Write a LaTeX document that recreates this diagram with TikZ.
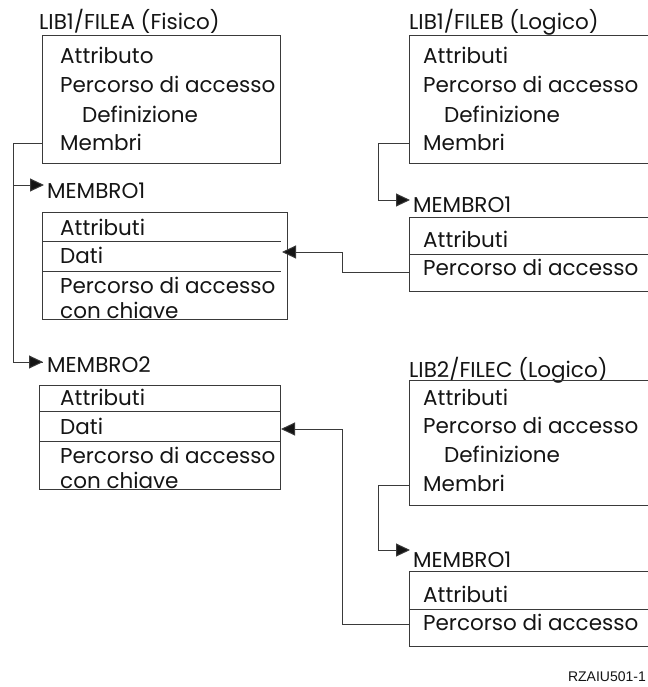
\documentclass[tikz,border=0pt]{standalone}
\usepackage{fontspec}
\setmainfont{Poppins}
\newfontfamily\tagfont{Liberation Sans}
\usetikzlibrary{arrows.meta}
\definecolor{ink}{HTML}{141414}
\definecolor{rule}{HTML}{3A3A3A}
\tikzset{
  txt/.style={anchor=base west, inner sep=0pt, text=ink, font=\fontsize{21.5}{21.5}\selectfont},
  boxframe/.style={draw=rule, line width=1pt},
  link/.style={draw=rule, line width=1pt},
  tip/.style={-{Triangle[length=14pt,width=13pt,fill=ink]}},
}
\begin{document}
\begin{tikzpicture}[x=1pt,y=-1pt]
\useasboundingbox (0,0) rectangle (647,687);

% ---- LIB1/FILEA (physical file)
\node[txt] (fat) at (39,30) {LIB1/FILEA (Fisico)};
\draw[boxframe] (42,36) rectangle (280,164);
\node[txt] (fa1) at (60,64) {Attributo};
\node[txt] (fa2) at (60,93) {Percorso di accesso};
\node[txt] (fa3) at (82,123) {Definizione};
\node[txt] (fa4) at (60,151) {Membri};
\coordinate (famem) at (42,144);
\coordinate (faj) at (13,144);

% member 1 of FILEA
\node[txt] (m1t) at (47,198) {MEMBRO1};
\coordinate (m1in) at (44,185);
\draw[boxframe] (42,212) rectangle (287,319);
\draw[boxframe] (42,241) -- (281,241);
\draw[boxframe] (42,271) -- (281,271);
\node[txt] (m11) at (60,235) {Attributi};
\node[txt] (m12) at (60,263) {Dati};
\node[txt] (m13) at (60,293) {Percorso di accesso};
\node[txt] (m14) at (60,318) {con chiave};
\coordinate (m1dati) at (282,252);

% member 2 of FILEA
\node[txt] (m2t) at (47,372) {MEMBRO2};
\coordinate (m2in) at (43,362);
\draw[boxframe] (39,385) rectangle (280,489);
\draw[boxframe] (39,411) -- (280,411);
\draw[boxframe] (39,441) -- (280,441);
\node[txt] (m21) at (60,405) {Attributi};
\node[txt] (m22) at (60,434) {Dati};
\node[txt] (m23) at (60,463) {Percorso di accesso};
\node[txt] (m24) at (60,488) {con chiave};
\coordinate (m2dati) at (281,429);

% ---- LIB1/FILEB (logical file)
\node[txt] (fbt) at (409,30) {LIB1/FILEB (Logico)};
\draw[boxframe] (409,36) rectangle (700,164);
\node[txt] (fb1) at (423,64) {Attributi};
\node[txt] (fb2) at (423,93) {Percorso di accesso};
\node[txt] (fb3) at (444,123) {Definizione};
\node[txt] (fb4) at (423,151) {Membri};
\coordinate (fbmem) at (409,144);
\coordinate (fbj) at (378,144);

\node[txt] (bm1t) at (413,212) {MEMBRO1};
\coordinate (bm1in) at (410,200);
\draw[boxframe] (409,217) rectangle (700,291);
\draw[boxframe] (409,254) -- (700,254);
\node[txt] (bm11) at (423,247) {Attributi};
\node[txt] (bm12) at (423,275) {Percorso di accesso};
\coordinate (bm1acc) at (409,272);
\coordinate (bj) at (342,272);

% ---- LIB2/FILEC (logical file)
\node[txt] (fct) at (409,377) {LIB2/FILEC (Logico)};
\draw[boxframe] (409,380) rectangle (700,505);
\node[txt] (fc1) at (423,405) {Attributi};
\node[txt] (fc2) at (423,433) {Percorso di accesso};
\node[txt] (fc3) at (444,462) {Definizione};
\node[txt] (fc4) at (423,491) {Membri};
\coordinate (fcmem) at (409,485);
\coordinate (fcj) at (378,485);

\node[txt] (cm1t) at (413,567) {MEMBRO1};
\coordinate (cm1in) at (410,550);
\draw[boxframe] (409,571) rectangle (700,646);
\draw[boxframe] (409,609) -- (700,609);
\node[txt] (cm11) at (423,602) {Attributi};
\node[txt] (cm12) at (423,630) {Percorso di accesso};
\coordinate (cm1acc) at (409,624);
\coordinate (cj) at (342,624);

% ---- connectors
\draw[link] (famem) -- (faj) |- (m2in);
\draw[link, tip] (faj |- m2in) -- (m2in);
\draw[link, tip] (faj |- m1in) -- (m1in);
\draw[link, tip] (fbmem) -- (fbj) |- (bm1in);
\draw[link, tip] (bm1acc) -- (bj) |- (m1dati);
\draw[link, tip] (fcmem) -- (fcj) |- (cm1in);
\draw[link, tip] (cm1acc) -- (cj) |- (m2dati);

% ---- figure tag
\node[anchor=base east, inner sep=0pt, text=ink, font=\tagfont\fontsize{14}{14}\selectfont] (tag) at (646,681) {RZAIU501-1};
\end{tikzpicture}
\end{document}
